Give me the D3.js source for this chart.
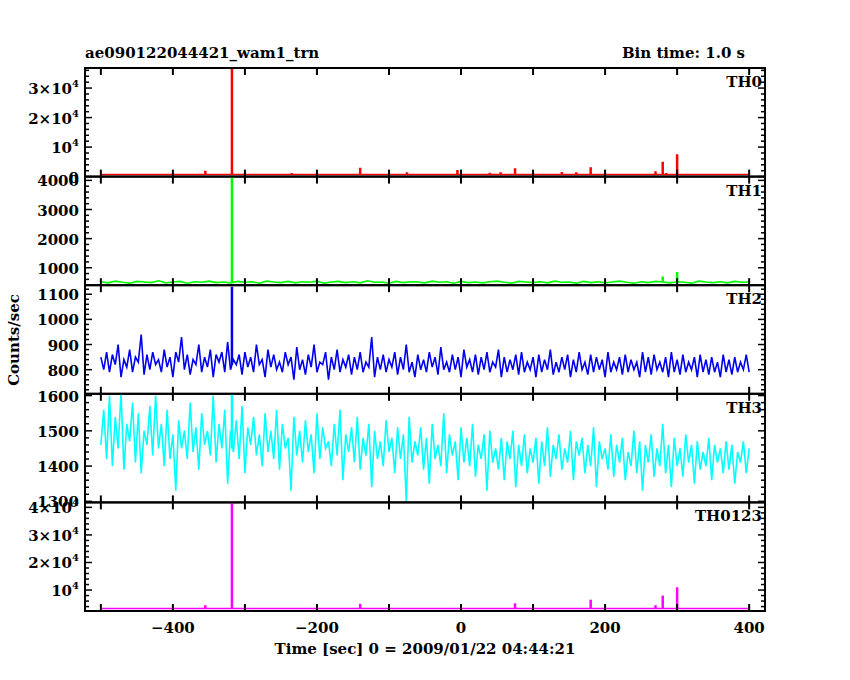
<!DOCTYPE html>
<html>
<head>
<meta charset="UTF-8">
<script src="https://d3js.org/d3.v7.min.js"></script>
<style>
  body { margin: 0; background: #fff; }
  text { font-family: "DejaVu Serif", serif; font-weight: bold; fill: #000; }
</style>
</head>
<body>
<div id="chart"></div>
<script>
// TH2, TH3: 4 s samples starting at -500 s
const th2 = [850,800,870,790,860,820,900,770,840,810,880,790,850,830,940,780,860,800,870,820,
840,790,880,810,850,770,870,830,930,800,860,780,840,820,900,790,850,810,880,770,
860,830,870,790,910,800,840,820,860,780,870,810,850,790,900,820,840,770,880,810,
860,800,830,790,870,820,850,760,890,800,840,780,860,810,900,790,830,820,870,760,
850,800,880,790,840,810,860,780,850,800,870,790,830,810,930,770,850,800,860,790,
840,810,870,780,850,800,900,790,830,770,860,800,840,790,870,810,850,780,890,800,
830,790,860,800,850,770,880,810,840,790,860,780,850,800,870,790,830,810,880,770,
850,790,840,800,860,780,870,790,830,800,850,770,860,790,840,800,880,780,830,790,
850,800,860,770,840,790,870,800,830,780,860,790,850,800,840,770,870,790,830,800,
850,780,860,790,840,800,830,770,870,790,850,780,860,800,830,790,850,770,870,790,
840,780,860,790,830,800,850,770,860,790,840,780,850,790,830,770,860,790,
840,780,850,790,830,800,860,790];
const th3 = [1460,1560,1420,1600,1400,1540,1450,1610,1390,1520,1470,1580,1410,1550,1380,1500,1460,1570,1430,1600,
1450,1520,1400,1560,1420,1490,1330,1530,1450,1500,1420,1580,1440,1510,1390,1550,1460,1500,1430,1600,
1410,1520,1450,1560,1350,1500,1440,1530,1420,1570,1380,1510,1460,1540,1430,1490,1400,1550,1440,1500,
1420,1560,1390,1520,1450,1480,1330,1540,1430,1500,1410,1530,1440,1490,1380,1550,1420,1510,1450,1470,
1400,1520,1430,1560,1360,1490,1440,1510,1410,1540,1390,1480,1430,1520,1340,1500,1420,1470,1400,1530,
1440,1480,1380,1510,1420,1490,1300,1540,1410,1470,1430,1510,1390,1480,1350,1520,1420,1460,1400,1550,
1380,1490,1430,1470,1360,1510,1410,1480,1400,1520,1370,1460,1420,1490,1330,1500,1410,1450,1390,1480,
1360,1470,1420,1500,1340,1460,1400,1490,1380,1450,1410,1480,1350,1470,1400,1510,1370,1460,1420,1490,
1390,1450,1410,1500,1360,1470,1430,1480,1380,1460,1400,1510,1340,1470,1420,1450,1390,1490,1370,1460,
1410,1480,1360,1440,1400,1500,1380,1470,1330,1460,1410,1490,1370,1450,1400,1520,1380,1460,1340,1480,
1400,1450,1370,1490,1410,1460,1350,1470,1390,1440,1400,1480,1360,1460,1410,1450,1380,1470,
1390,1460,1350,1440,1410,1470,1380,1450];
// TH1: 10 s samples starting at -500 s
const th1 = [520,480,540,500,470,530,510,490,550,480,510,530,470,520,500,540,490,510,480,530,
500,520,470,540,510,490,530,480,520,500,540,470,510,530,490,520,480,550,500,510,
470,530,490,520,510,480,540,500,520,470,530,490,510,480,520,540,500,470,530,510,
490,520,480,540,500,510,470,530,490,520,480,510,540,500,470,520,490,530,510,480,
520,500,470,540,510,490,520,480,530,500,510];
const th0Base = 700, th0123Base = 3300;

// spikes [time, counts]
const th0Spikes = [[-355,2000],[-318,36800],[-235,1200],[-140,3000],[-75,1500],[-5,2200],[40,1300],[55,1500],
  [75,2800],[140,1600],[160,1500],[180,3200],[270,1800],[280,5000],[285,1200],[300,7600]];
const th1Spikes = [[-318,4130],[280,700],[300,850]];
const th2Spikes = [[-318,1130]];
const th3Spikes = [[-318,1605]];
const th0123Spikes = [[-355,4500],[-318,41800],[-140,5000],[75,5200],[180,6500],[270,4500],[280,8000],[300,11000]];

const W = 850, H = 680, L = 85, R = 765, T = 68, B = 611;
const ph = (B - T) / 5;
const x = d3.scaleLinear().domain([-522, 422]).range([L, R]);
const sup = (m, e) => [m, e];

const panels = [
  { name: "TH0", color: "#ff0000", dom: [0, 36800], major: 10000, minor: 2000,
    labels: [[0,"0"],[10000,sup("10","4")],[20000,sup("2×10","4")],[30000,sup("3×10","4")]],
    series: d3.range(-500, 401, 50).map(t => [t, th0Base]), spikes: th0Spikes, base: th0Base },
  { name: "TH1", color: "#00ff00", dom: [400, 4130], major: 1000, minor: 200,
    labels: [[1000,"1000"],[2000,"2000"],[3000,"3000"],[4000,"4000"]],
    series: th1.map((v, i) => [-500 + i * 10, v]), spikes: th1Spikes, base: 510 },
  { name: "TH2", color: "#0000ee", dom: [704, 1136], major: 100, minor: 20,
    labels: [[800,"800"],[900,"900"],[1000,"1000"],[1100,"1100"]],
    series: th2.map((v, i) => [-500 + i * 4, v]), spikes: th2Spikes, base: 820 },
  { name: "TH3", color: "#00ffff", dom: [1297, 1605], major: 100, minor: 20,
    labels: [[1300,"1300"],[1400,"1400"],[1500,"1500"],[1600,"1600"]],
    series: th3.map((v, i) => [-500 + i * 4, v]), spikes: th3Spikes, base: 1450 },
  { name: "TH0123", color: "#ff00ff", dom: [2400, 41800], major: 10000, minor: 2000,
    labels: [[10000,sup("10","4")],[20000,sup("2×10","4")],[30000,sup("3×10","4")],[40000,sup("4×10","4")]],
    series: d3.range(-500, 401, 50).map(t => [t, th0123Base]), spikes: th0123Spikes, base: th0123Base }
];

const svg = d3.select("#chart").append("svg").attr("width", W).attr("height", H);

panels.forEach((p, k) => {
  const top = T + k * ph, bot = top + ph;
  const y = d3.scaleLinear().domain(p.dom).range([bot, top]);
  const g = svg.append("g");
  g.append("clipPath").attr("id", "c" + k).append("rect")
    .attr("x", L).attr("y", top).attr("width", R - L).attr("height", ph);
  const pg = g.append("g").attr("clip-path", `url(#c${k})`);
  pg.append("path").datum(p.series)
    .attr("fill", "none").attr("stroke", p.color).attr("stroke-width", 1.6)
    .attr("d", d3.line().x(d => x(d[0])).y(d => y(d[1])));
  pg.selectAll("line.sp").data(p.spikes).join("line")
    .attr("x1", d => x(d[0])).attr("x2", d => x(d[0]))
    .attr("y1", y(p.base)).attr("y2", d => y(d[1]))
    .attr("stroke", p.color).attr("stroke-width", 2.5);

  // frame
  g.append("rect").attr("x", L).attr("y", top).attr("width", R - L).attr("height", ph)
    .attr("fill", "none").attr("stroke", "#000").attr("stroke-width", 2);

  // x ticks top/bottom
  d3.range(-500, 401, 100).forEach(t => {
    g.append("line").attr("x1", x(t)).attr("x2", x(t)).attr("y1", bot).attr("y2", bot - 7).attr("stroke", "#000").attr("stroke-width", 2);
    g.append("line").attr("x1", x(t)).attr("x2", x(t)).attr("y1", top).attr("y2", top + 7).attr("stroke", "#000").attr("stroke-width", 2);
  });
  // y ticks
  const first = Math.ceil(p.dom[0] / p.minor) * p.minor;
  d3.range(first, p.dom[1], p.minor).forEach(v => {
    const isMaj = Math.abs(v % p.major) < 1e-6;
    const len = isMaj ? 7 : 4;
    g.append("line").attr("x1", L).attr("x2", L + len).attr("y1", y(v)).attr("y2", y(v)).attr("stroke", "#000").attr("stroke-width", 1.5);
    g.append("line").attr("x1", R).attr("x2", R - len).attr("y1", y(v)).attr("y2", y(v)).attr("stroke", "#000").attr("stroke-width", 1.5);
  });
  p.labels.forEach(([v, lab]) => {
    const t = g.append("text").attr("x", L - 6).attr("y", y(v) + 6).attr("text-anchor", "end").style("font-size", "15px");
    if (typeof lab === "string") t.text(lab);
    else { t.append("tspan").text(lab[0]); t.append("tspan").attr("dy", -7).style("font-size", "10px").text(lab[1]); }
  });
  g.append("text").attr("x", R - 3).attr("y", top + 19).attr("text-anchor", "end").style("font-size", "15px").text(p.name);
});

d3.range(-400, 401, 200).forEach(t => {
  svg.append("text").attr("x", x(t)).attr("y", B + 22).attr("text-anchor", "middle").style("font-size", "15px").text((t < 0 ? "\u2212" : "") + Math.abs(t));
});
svg.append("text").attr("x", L).attr("y", 58).style("font-size", "15px").text("ae090122044421_wam1_trn");
svg.append("text").attr("x", 745).attr("y", 58).attr("text-anchor", "end").style("font-size", "15px").text("Bin time: 1.0 s");
svg.append("text").attr("x", 425).attr("y", 654).attr("text-anchor", "middle").style("font-size", "15px").text("Time [sec] 0 = 2009/01/22 04:44:21");
svg.append("text").attr("transform", "translate(19,340) rotate(-90)").attr("text-anchor", "middle").style("font-size", "15px").text("Counts/sec");
</script>
</body>
</html>
